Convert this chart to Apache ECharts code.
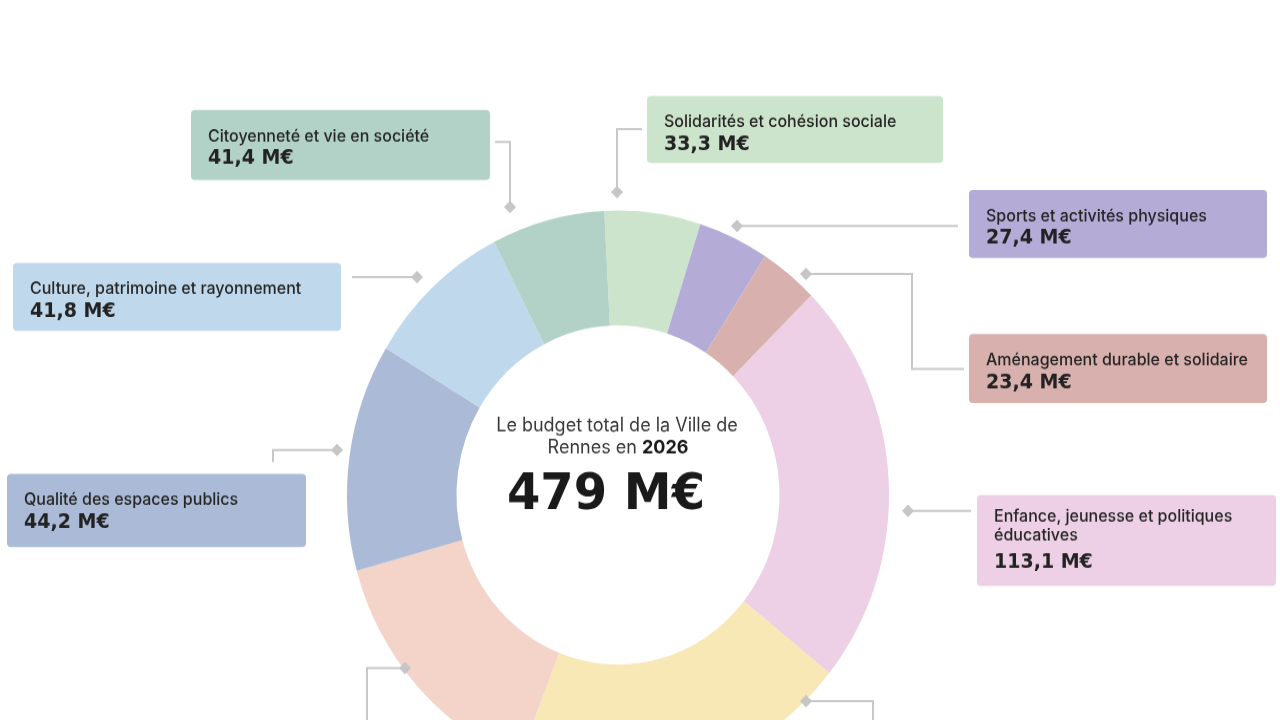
<!DOCTYPE html>
<html>
<head>
<meta charset="utf-8">
<script src="https://cdn.jsdelivr.net/npm/echarts@6/dist/echarts.min.js"></script>
<style>
html,body{margin:0;padding:0;background:#fff;overflow:hidden;width:1280px;height:720px;}
#chart{width:1280px;height:686px;transform:scaleY(1.04956);transform-origin:0 0;}
</style>
</head>
<body>
<div id="chart"></div>
<script>
// ---- data (clockwise from the top) ----
const categories = [
  'Solidarités et cohésion sociale',
  'Sports et activités physiques',
  'Aménagement durable et solidaire',
  'Enfance, jeunesse et politiques\néducatives',
  'Poste (libellé hors cadre) A',
  'Poste (libellé hors cadre) B',
  'Qualité des espaces publics',
  'Culture, patrimoine et rayonnement',
  'Citoyenneté et vie en société'
];
// amounts printed in the boxes (M€); null = box outside the picture
const amounts = [33.3, 27.4, 23.4, 113.1, null, null, 44.2, 41.8, 41.4];
// share of the ring each slice occupies in the picture (%)
const sliceShare = [5.72, 4.22, 3.50, 23.14, 20.17, 14.78, 12.92, 8.81, 6.75];
const colors = ['#cde4cc', '#b4acd7', '#d8b1ae', '#edd0e5', '#f7e8b6', '#f4d3c8', '#abbbd7', '#bfd8eb', '#b2d2c7'];
const centerLine1 = 'Le budget total de la Ville de';
const centerLine2a = 'Rennes en ';
const centerYear = '2026';
const totalLabel = '479 M€';

// ---- layout (reference pixels) ----
const SY = 720 / 686;
const FONT_NAME = 'Inter, "Noto Sans", sans-serif';
const FONT_NUM = '"DejaVu Sans", Inter, sans-serif';
// label boxes: [left, top, width, height]
const boxes = [
  [647, 96, 296, 67],
  [969, 190, 298, 68],
  [969, 334, 298, 69],
  [977, 495, 299, 91],
  null,
  null,
  [7, 474, 299, 73],
  [13, 263, 328, 68],
  [191, 110, 299, 70]
];
// leader lines: first point is the diamond
const leaders = [
  [[617, 192], [617, 129], [642, 129]],
  [[737, 226], [958, 226]],
  [[806, 274], [912, 274], [912, 369], [964, 369]],
  [[908, 511], [971, 511]],
  [[806, 701], [873, 701], [873, 730]],
  [[405, 668], [367, 668], [367, 730]],
  [[337, 450], [273, 450], [273, 462]],
  [[417, 277], [352, 277]],
  [[510, 207], [510, 142], [495, 142]]
];

function fmt(v) { return v.toFixed(1).replace('.', ',') + ' M€'; }

const data = categories.map(function (name, i) {
  const b = boxes[i];
  const twoLine = name.indexOf('\n') >= 0;
  const padTop = twoLine ? 12 : 15;
  const item = {
    name: name,
    value: sliceShare[i],
    itemStyle: { color: colors[i] }
  };
  if (!b || amounts[i] == null) {
    item.label = { show: false };
  } else {
    item.label = {
      show: true,
      backgroundColor: colors[i],
      borderRadius: 4,
      padding: [padTop, 17, 0, 17],
      width: b[2] - 34,
      height: b[3] / SY - padTop,
      formatter: '{n|' + name + '}\n{v|' + fmt(amounts[i]) + '}',
      rich: {
        n: { fontFamily: FONT_NAME, fontSize: 16, fontWeight: 500, color: '#242424', lineHeight: twoLine ? 18 : 20 },
        v: { fontFamily: FONT_NUM, fontSize: 19, fontWeight: 700, color: '#222222', lineHeight: twoLine ? 32 : 23 }
      }
    };
  }
  return item;
});

const graphics = [];
leaders.forEach(function (pts) {
  const p = pts.map(function (q) { return [q[0], q[1] / SY]; });
  graphics.push({
    type: 'polyline', silent: true, z: 10,
    shape: { points: p },
    style: { stroke: '#c8c8c8', lineWidth: 2, fill: null }
  });
  const d = p[0], h = 6;
  graphics.push({
    type: 'polygon', silent: true, z: 11,
    shape: { points: [[d[0], d[1] - h], [d[0] + h, d[1]], [d[0], d[1] + h], [d[0] - h, d[1]]] },
    style: { fill: '#c6c6c6' }
  });
});
graphics.push({
  type: 'text', x: 617, y: 426 / SY, silent: true, z: 12,
  style: { text: centerLine1, fontFamily: FONT_NAME, fontSize: 18, fontWeight: 400, fill: '#383838',
    align: 'center', verticalAlign: 'middle', textAlign: 'center', textVerticalAlign: 'middle' }
});
graphics.push({
  type: 'text', x: 618, y: 448 / SY, silent: true, z: 12,
  style: { text: centerLine2a + '{b|' + centerYear + '}', fontFamily: FONT_NAME, fontSize: 18, fontWeight: 400, fill: '#383838',
    align: 'center', verticalAlign: 'middle', textAlign: 'center', textVerticalAlign: 'middle',
    rich: { b: { fontFamily: FONT_NAME, fontSize: 18, fontWeight: 700, fill: '#1a1a1a' } } }
});
graphics.push({
  type: 'text', x: 606, y: 496 / SY, silent: true, z: 12,
  style: { text: totalLabel, fontFamily: FONT_NUM, fontSize: 48, fontWeight: 700, fill: '#1a1a1a',
    align: 'center', verticalAlign: 'middle', textAlign: 'center', textVerticalAlign: 'middle' }
});

const chart = echarts.init(document.getElementById('chart'));
chart.setOption({
  animation: false,
  backgroundColor: '#ffffff',
  graphic: graphics,
  series: [{
    type: 'pie',
    silent: true,
    center: [618, 495 / SY],
    radius: [161.5, 271],
    startAngle: 92.9,
    clockwise: true,
    avoidLabelOverlap: false,
    itemStyle: { borderWidth: 0 },
    labelLine: { show: false },
    label: { show: true, position: 'outside' },
    labelLayout: function (p) {
      const b = boxes[p.dataIndex];
      if (!b) return {};
      return { x: b[0], y: b[1] / SY, align: 'left', verticalAlign: 'top', hideOverlap: false, moveOverlap: false };
    },
    data: data
  }]
});
</script>
</body>
</html>
